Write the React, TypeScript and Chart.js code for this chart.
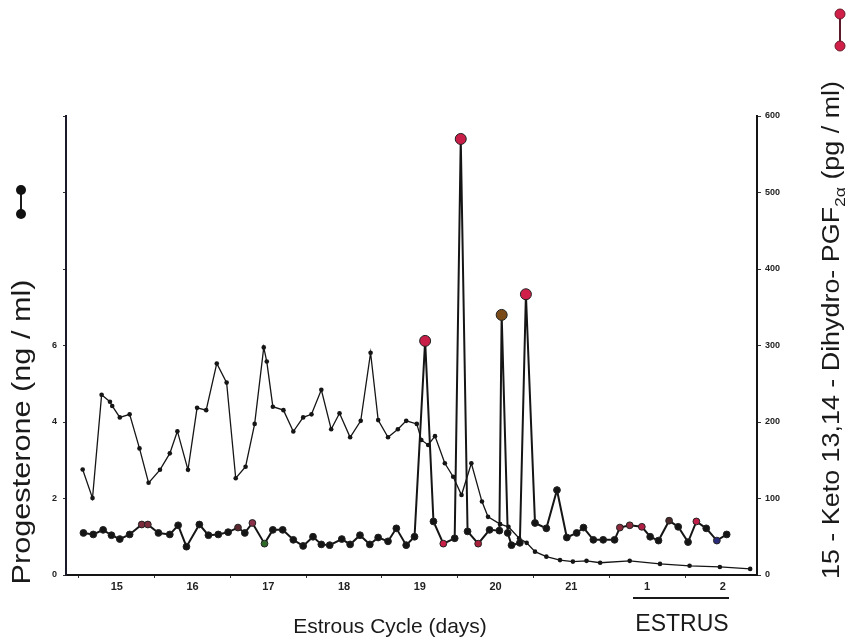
import React, { useEffect, useRef } from 'react';
import { Chart, registerables } from 'chart.js';

Chart.register(...registerables);

// ---- data ----
const dayTicks = [15, 16, 17, 18, 19, 20, 21, 22, 23];
const dayTickLabels = ['15', '16', '17', '18', '19', '20', '21', '1', '2'];
const progesteroneTickValues = [0, 2, 4, 6];
const pgfTickValues = [0, 100, 200, 300, 400, 500, 600];

// Progesterone (ng/ml), left axis
const progDays = [
  14.55, 14.68, 14.8, 14.91, 14.94, 15.04, 15.17, 15.3, 15.42, 15.57, 15.7, 15.8, 15.94,
  16.06, 16.18, 16.32, 16.45, 16.57, 16.7, 16.82, 16.94, 16.98, 17.06, 17.2, 17.33, 17.46,
  17.57, 17.7, 17.83, 17.94, 18.08, 18.22, 18.35, 18.45, 18.58, 18.71, 18.82, 18.96, 19.02,
  19.11, 19.2, 19.33, 19.44, 19.55, 19.68, 19.82, 19.9, 20.06, 20.17, 20.31, 20.41, 20.52,
  20.67, 20.85, 21.02, 21.2, 21.38, 21.77, 22.17, 22.56, 22.96, 23.36,
];
const progValues = [
  2.76, 2.01, 4.71, 4.53, 4.42, 4.12, 4.2, 3.31, 2.41, 2.75, 3.18, 3.76, 2.75,
  4.37, 4.31, 5.53, 5.03, 2.53, 2.83, 3.95, 5.95, 5.58, 4.4, 4.31, 3.75, 4.12,
  4.2, 4.84, 3.81, 4.23, 3.6, 4.03, 5.81, 4.05, 3.6, 3.81, 4.03, 3.95, 3.53,
  3.4, 3.63, 2.92, 2.57, 2.09, 2.92, 1.92, 1.52, 1.33, 1.26, 0.96, 0.84, 0.61,
  0.48, 0.39, 0.35, 0.37, 0.32, 0.37, 0.29, 0.24, 0.21, 0.16,
];

// 15-Keto 13,14-Dihydro-PGF2a (pg/ml), right axis
const pgfDays = [
  14.56, 14.69, 14.82, 14.93, 15.04, 15.17, 15.33, 15.41, 15.55, 15.7, 15.81, 15.92,
  16.09, 16.21, 16.34, 16.47, 16.6, 16.69, 16.79, 16.95, 17.06, 17.19, 17.33, 17.46,
  17.59, 17.7, 17.81, 17.97, 18.08, 18.21, 18.34, 18.45, 18.58, 18.69, 18.82, 18.93,
  19.07, 19.18, 19.31, 19.46, 19.54, 19.63, 19.77, 19.92, 20.05, 20.08, 20.16,
  20.21, 20.32, 20.4, 20.52, 20.67, 20.81, 20.94, 21.07, 21.16, 21.29, 21.42, 21.57,
  21.64, 21.77, 21.93, 22.04, 22.15, 22.29, 22.41, 22.54, 22.65, 22.78, 22.92, 23.05,
];
const pgfValues = [
  55, 53, 59, 52, 47, 53, 66, 66, 55, 53, 65, 37,
  66, 52, 53, 56, 62, 55, 68, 41, 59, 59, 46, 38,
  50, 40, 39, 47, 40, 52, 40, 49, 44, 61, 39, 50,
  306, 70, 41, 48, 570, 57, 41, 59, 58, 340, 55,
  39, 42, 367, 68, 61, 111, 49, 55, 62, 46, 46, 46,
  62, 65, 63, 50, 45, 71, 63, 43, 70, 61, 45, 53,
];

// marker tints seen on the scanned figure (by point index of the PGF series)
const pgfMarkerTints: Record<number, string> = {
  6: '#7a2a3a', 7: '#7a2a3a', 16: '#5a2a30', 18: '#8a3048', 19: '#2f6a2a',
  36: '#c81e48', 38: '#c81e48', 40: '#c81e48', 42: '#a8203a', 45: '#7a4a18',
  49: '#d0204a', 59: '#8a2a3c', 60: '#8a2a3c', 61: '#b01e44', 64: '#4a2a2a',
  67: '#c01e48', 69: '#2a2a7a',
};

const FONT = '"Liberation Sans", Arial, Helvetica, sans-serif';

function drawStretched(
  ctx: CanvasRenderingContext2D,
  parts: { text: string; size: number; dy: number }[],
  cx: number,
  cy: number,
  targetLength: number,
) {
  ctx.save();
  ctx.translate(cx, cy);
  ctx.rotate(-Math.PI / 2);
  ctx.textBaseline = 'middle';
  ctx.textAlign = 'left';
  const widths = parts.map((p) => {
    ctx.font = `${p.size}px ${FONT}`;
    return ctx.measureText(p.text).width;
  });
  const total = widths.reduce((a, b) => a + b, 0);
  const sx = targetLength / total;
  ctx.scale(sx, 1);
  let x = -total / 2;
  parts.forEach((p, i) => {
    ctx.font = `${p.size}px ${FONT}`;
    ctx.fillText(p.text, x, p.dy);
    x += widths[i];
  });
  ctx.restore();
}

const textPlugin = {
  id: 'figureTexts',
  afterDraw(chart: any) {
    const ctx = chart.ctx as CanvasRenderingContext2D;
    ctx.save();
    ctx.fillStyle = '#1a1a1a';
    ctx.strokeStyle = '#1a1a1a';

    // left axis title
    drawStretched(ctx, [{ text: 'Progesterone (ng / ml)', size: 25, dy: 0 }], 23, 432, 305);

    // left series key (black dots)
    ctx.lineWidth = 2;
    ctx.beginPath();
    ctx.moveTo(21, 190);
    ctx.lineTo(21, 214);
    ctx.stroke();
    ctx.fillStyle = '#111';
    [190, 214].forEach((y) => {
      ctx.beginPath();
      ctx.arc(21, y, 5, 0, Math.PI * 2);
      ctx.fill();
    });

    // right axis title with subscript
    ctx.fillStyle = '#1a1a1a';
    drawStretched(
      ctx,
      [
        { text: '15 - Keto 13,14 - Dihydro- PGF', size: 23, dy: 0 },
        { text: '2\u03B1', size: 15, dy: 8 },
        { text: ' (pg / ml)', size: 23, dy: 0 },
      ],
      833,
      330,
      498,
    );

    // right series key (red dots)
    ctx.strokeStyle = '#5a1a2a';
    ctx.lineWidth = 2;
    ctx.beginPath();
    ctx.moveTo(840, 14);
    ctx.lineTo(840, 46);
    ctx.stroke();
    [14, 46].forEach((y) => {
      ctx.beginPath();
      ctx.arc(840, y, 5, 0, Math.PI * 2);
      ctx.fillStyle = '#d0204a';
      ctx.fill();
      ctx.lineWidth = 1;
      ctx.strokeStyle = '#6a1a2a';
      ctx.stroke();
    });

    // x title
    ctx.fillStyle = '#1a1a1a';
    ctx.font = `21px ${FONT}`;
    ctx.textAlign = 'center';
    ctx.textBaseline = 'middle';
    ctx.fillText('Estrous Cycle (days)', 390, 627);

    // ESTRUS bracket
    ctx.font = `23px ${FONT}`;
    ctx.fillText('ESTRUS', 682, 625);
    ctx.strokeStyle = '#1a1a1a';
    ctx.lineWidth = 2;
    ctx.beginPath();
    ctx.moveTo(633, 598);
    ctx.lineTo(729, 598);
    ctx.stroke();

    ctx.restore();
  },
};

const isInt = (v: number) => Math.abs(v - Math.round(v)) < 1e-6;

export default function App() {
  const ref = useRef<HTMLCanvasElement | null>(null);

  useEffect(() => {
    document.body.style.margin = '0';
    const canvas = ref.current;
    if (!canvas) return;

    const progData = progDays.map((d, i) => ({ x: d, y: progValues[i] }));
    const pgfData = pgfDays.map((d, i) => ({ x: d, y: pgfValues[i] }));

    const chart = new Chart(canvas, {
      type: 'line',
      data: {
        datasets: [
          {
            label: 'Progesterone (ng / ml)',
            data: progData,
            yAxisID: 'y',
            borderColor: '#151515',
            borderWidth: 1.3,
            pointRadius: 2.3,
            pointBackgroundColor: '#151515',
            pointBorderWidth: 0,
            tension: 0,
            order: 2,
          },
          {
            label: '15-Keto 13,14-Dihydro-PGF2\u03B1 (pg / ml)',
            data: pgfData,
            yAxisID: 'y1',
            borderColor: '#151515',
            borderWidth: 2,
            pointRadius: (c: any) => (c.raw && c.raw.y > 250 ? 5.5 : 3.4),
            pointBackgroundColor: (c: any) => pgfMarkerTints[c.dataIndex] ?? '#151515',
            pointBorderColor: '#222',
            pointBorderWidth: 1,
            tension: 0,
            order: 1,
          },
        ],
      },
      options: {
        responsive: false,
        animation: false,
        devicePixelRatio: 1,
        layout: { padding: { top: 116, left: 0, right: 0, bottom: 0 } },
        plugins: {
          legend: { display: false },
          tooltip: { enabled: false },
        },
        scales: {
          x: {
            type: 'linear',
            min: 14.33,
            max: 23.45,
            position: 'bottom',
            afterFit: (s: any) => {
              s.height = 67;
            },
            ticks: {
              stepSize: 0.5,
              includeBounds: false,
              autoSkip: false,
              maxRotation: 0,
              padding: 2,
              color: '#222',
              font: { size: 11, family: FONT, weight: 'bold' },
              callback: (v: any) => {
                const n = Number(v);
                if (!isInt(n)) return '';
                const idx = dayTicks.indexOf(Math.round(n));
                return idx >= 0 ? dayTickLabels[idx] : '';
              },
            },
            grid: {
              drawOnChartArea: false,
              drawTicks: true,
              tickLength: 3,
              color: (c: any) =>
                c.tick && !isInt(Number(c.tick.value)) ? '#333' : 'rgba(0,0,0,0)',
            },
            border: { display: true, color: '#151515', width: 2 },
          },
          y: {
            type: 'linear',
            position: 'left',
            min: 0,
            max: 12,
            afterFit: (s: any) => {
              s.width = 66;
            },
            ticks: {
              stepSize: 2,
              padding: 6,
              color: '#222',
              font: { size: 9, family: FONT, weight: 'bold' },
              callback: (v: any) =>
                progesteroneTickValues.includes(Number(v)) ? String(v) : '',
            },
            grid: { drawOnChartArea: false, drawTicks: true, tickLength: 3, color: '#333' },
            border: { display: true, color: '#1a1a2a', width: 2 },
          },
          y1: {
            type: 'linear',
            position: 'right',
            min: 0,
            max: 600,
            afterFit: (s: any) => {
              s.width = 102;
            },
            ticks: {
              stepSize: 100,
              padding: 4,
              color: '#222',
              font: { size: 9, family: FONT, weight: 'bold' },
              callback: (v: any) => (pgfTickValues.includes(Number(v)) ? String(v) : ''),
            },
            grid: { drawOnChartArea: false, drawTicks: true, tickLength: 4, color: '#333' },
            border: { display: true, color: '#151515', width: 2 },
          },
        },
      },
      plugins: [textPlugin],
    } as any);

    return () => {
      chart.destroy();
    };
  }, []);

  return (
    <div style={{ position: 'absolute', left: 0, top: 0, width: 859, height: 642, background: '#fff' }}>
      <canvas ref={ref} width={859} height={642} style={{ display: 'block', width: 859, height: 642 }} />
    </div>
  );
}
